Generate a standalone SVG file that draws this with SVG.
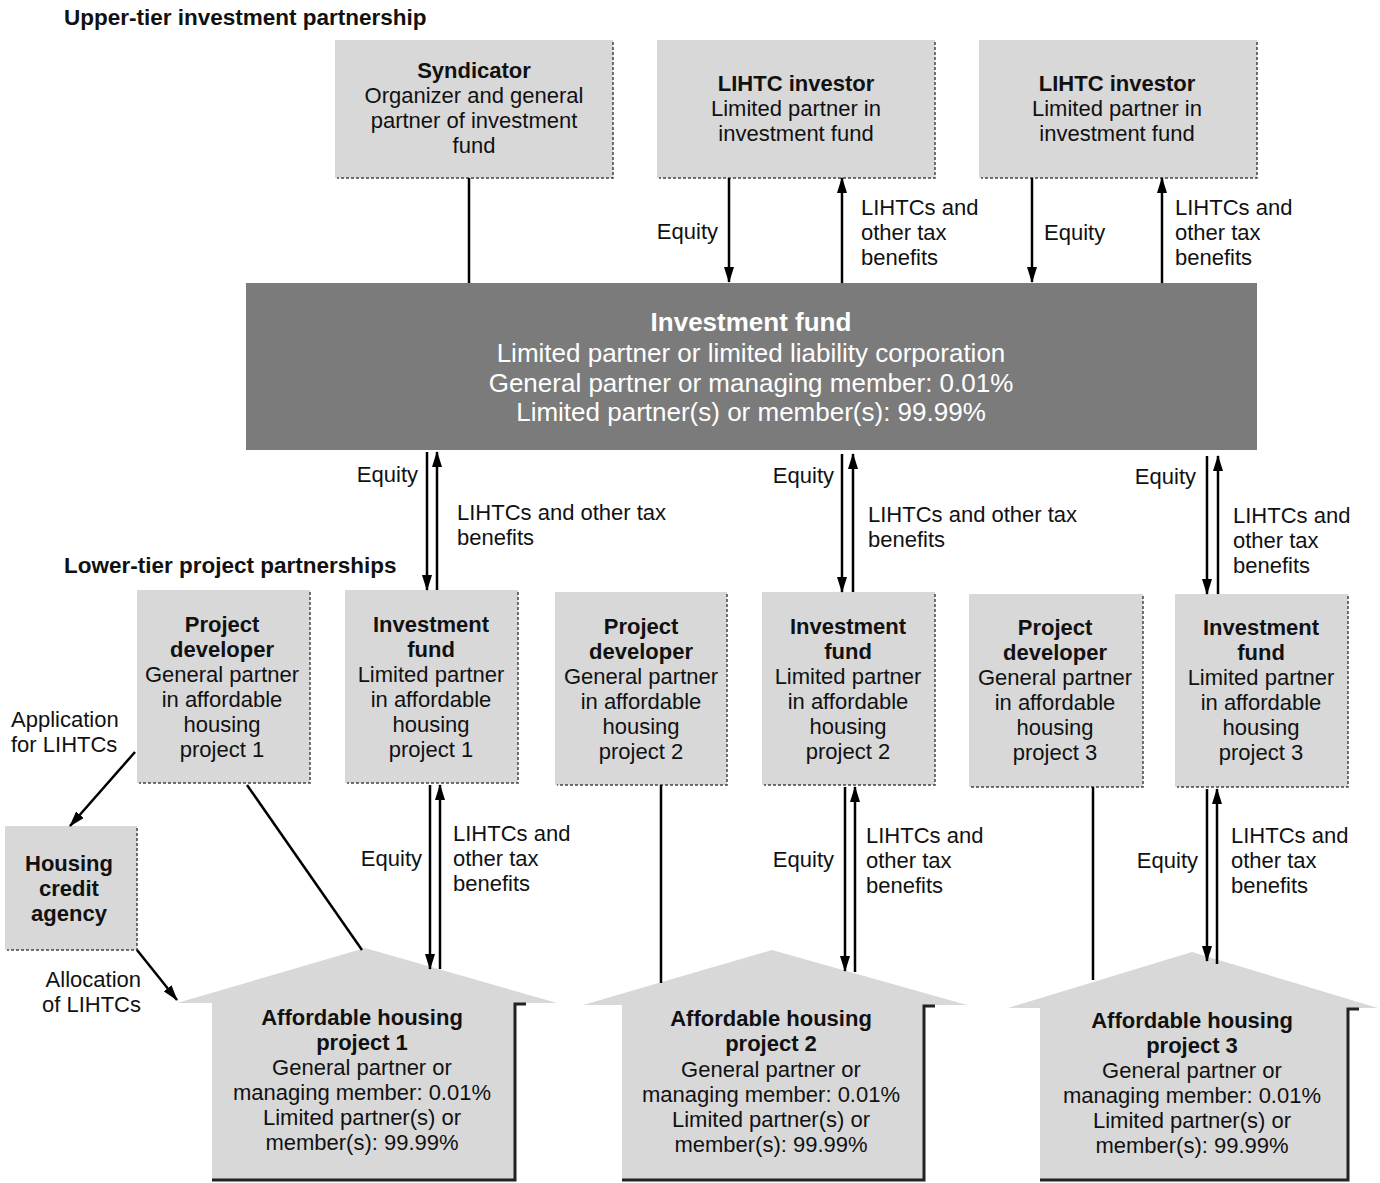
<svg xmlns="http://www.w3.org/2000/svg" width="1380" height="1183" viewBox="0 0 1380 1183">
<style>
text{font-family:"Liberation Sans",Arial,sans-serif;font-size:22px;fill:#111;}
.c{text-anchor:middle;}
.r{text-anchor:end;}
.b{font-weight:bold;}
.h{font-weight:bold;font-size:22.5px;}
.box{fill:#d8d8d8;}
.edge{fill:none;stroke:#444;stroke-width:1.5;stroke-dasharray:3 2;}
.hedge{fill:none;stroke:#222;stroke-width:3;}
.fund{fill:#7b7b7b;}
.ft{fill:#fff;font-size:26px;}
.ln{stroke:#000;stroke-width:2.5;fill:none;}
.ar{stroke:#000;stroke-width:2.5;fill:none;marker-end:url(#ah);}
</style>
<defs>
<marker id="ah" viewBox="0 0 16 10" refX="15" refY="5" markerWidth="16" markerHeight="10" markerUnits="userSpaceOnUse" orient="auto">
<path d="M0,0 L16,5 L0,10 z" fill="#000"/>
</marker>
</defs>
<rect width="1380" height="1183" fill="#fff"/>

<text class="h" x="64" y="25">Upper-tier investment partnership</text>
<text class="h" x="64" y="573">Lower-tier project partnerships</text>

<g id="syndicator">
<rect class="box" x="335" y="40" width="278" height="138"/>
<path class="edge" d="M613,42 V178 H337"/>
<text class="c b" x="474" y="78">Syndicator</text>
<text class="c" x="474" y="103">Organizer and general</text>
<text class="c" x="474" y="128">partner of investment</text>
<text class="c" x="474" y="153">fund</text>
</g>

<g id="investor1">
<rect class="box" x="657" y="40" width="278" height="138"/>
<path class="edge" d="M935,42 V178 H659"/>
<text class="c b" x="796" y="91">LIHTC investor</text>
<text class="c" x="796" y="116">Limited partner in</text>
<text class="c" x="796" y="141">investment fund</text>
</g>

<g id="investor2">
<rect class="box" x="979" y="40" width="278" height="138"/>
<path class="edge" d="M1257,42 V178 H981"/>
<text class="c b" x="1117" y="91">LIHTC investor</text>
<text class="c" x="1117" y="116">Limited partner in</text>
<text class="c" x="1117" y="141">investment fund</text>
</g>

<g id="investment-fund">
<rect class="fund" x="246" y="283" width="1011" height="167"/>
<text class="c b ft" x="751" y="331">Investment fund</text>
<text class="c ft" x="751" y="362">Limited partner or limited liability corporation</text>
<text class="c ft" x="751" y="392">General partner or managing member: 0.01%</text>
<text class="c ft" x="751" y="421">Limited partner(s) or member(s): 99.99%</text>
</g>

<g id="developer1">
<rect class="box" x="137" y="590" width="173" height="193"/>
<path class="edge" d="M310,592 V783 H139"/>
<text class="c b" x="222" y="632">Project</text>
<text class="c b" x="222" y="657">developer</text>
<text class="c" x="222" y="682">General partner</text>
<text class="c" x="222" y="707">in affordable</text>
<text class="c" x="222" y="732">housing</text>
<text class="c" x="222" y="757">project 1</text>
</g>

<g id="fund1">
<rect class="box" x="345" y="590" width="173" height="193"/>
<path class="edge" d="M518,592 V783 H347"/>
<text class="c b" x="431" y="632">Investment</text>
<text class="c b" x="431" y="657">fund</text>
<text class="c" x="431" y="682">Limited partner</text>
<text class="c" x="431" y="707">in affordable</text>
<text class="c" x="431" y="732">housing</text>
<text class="c" x="431" y="757">project 1</text>
</g>

<g id="developer2">
<rect class="box" x="555" y="592" width="172" height="193"/>
<path class="edge" d="M727,594 V785 H557"/>
<text class="c b" x="641" y="634">Project</text>
<text class="c b" x="641" y="659">developer</text>
<text class="c" x="641" y="684">General partner</text>
<text class="c" x="641" y="709">in affordable</text>
<text class="c" x="641" y="734">housing</text>
<text class="c" x="641" y="759">project 2</text>
</g>

<g id="fund2">
<rect class="box" x="762" y="592" width="173" height="193"/>
<path class="edge" d="M935,594 V785 H764"/>
<text class="c b" x="848" y="634">Investment</text>
<text class="c b" x="848" y="659">fund</text>
<text class="c" x="848" y="684">Limited partner</text>
<text class="c" x="848" y="709">in affordable</text>
<text class="c" x="848" y="734">housing</text>
<text class="c" x="848" y="759">project 2</text>
</g>

<g id="developer3">
<rect class="box" x="969" y="594" width="174" height="193"/>
<path class="edge" d="M1143,596 V787 H971"/>
<text class="c b" x="1055" y="635">Project</text>
<text class="c b" x="1055" y="660">developer</text>
<text class="c" x="1055" y="685">General partner</text>
<text class="c" x="1055" y="710">in affordable</text>
<text class="c" x="1055" y="735">housing</text>
<text class="c" x="1055" y="760">project 3</text>
</g>

<g id="fund3">
<rect class="box" x="1175" y="594" width="173" height="193"/>
<path class="edge" d="M1348,596 V787 H1177"/>
<text class="c b" x="1261" y="635">Investment</text>
<text class="c b" x="1261" y="660">fund</text>
<text class="c" x="1261" y="685">Limited partner</text>
<text class="c" x="1261" y="710">in affordable</text>
<text class="c" x="1261" y="735">housing</text>
<text class="c" x="1261" y="760">project 3</text>
</g>

<g id="housing-credit-agency">
<rect class="box" x="5" y="826" width="132" height="124"/>
<path class="edge" d="M137,828 V950 H7"/>
<text class="c b" x="69" y="871">Housing</text>
<text class="c b" x="69" y="896">credit</text>
<text class="c b" x="69" y="921">agency</text>
</g>

<g id="project1">
<polygon class="box" points="177,1003 365,948 557,1003 515,1003 515,1180 212,1180 212,1003"/>
<path class="hedge" d="M526,1004 H515 V1180 H212"/>
<text class="c b" x="362" y="1025">Affordable housing</text>
<text class="c b" x="362" y="1050">project 1</text>
<text class="c" x="362" y="1075">General partner or</text>
<text class="c" x="362" y="1100">managing member: 0.01%</text>
<text class="c" x="362" y="1125">Limited partner(s) or</text>
<text class="c" x="362" y="1150">member(s): 99.99%</text>
</g>

<g id="project2">
<polygon class="box" points="583,1005 772,950 967,1005 924,1005 924,1180 622,1180 622,1005"/>
<path class="hedge" d="M935,1006 H924 V1180 H622"/>
<text class="c b" x="771" y="1026">Affordable housing</text>
<text class="c b" x="771" y="1051">project 2</text>
<text class="c" x="771" y="1077">General partner or</text>
<text class="c" x="771" y="1102">managing member: 0.01%</text>
<text class="c" x="771" y="1127">Limited partner(s) or</text>
<text class="c" x="771" y="1152">member(s): 99.99%</text>
</g>

<g id="project3">
<polygon class="box" points="1008,1008 1192,952 1378,1008 1348,1008 1348,1180 1040,1180 1040,1008"/>
<path class="hedge" d="M1359,1009 H1348 V1180 H1040"/>
<text class="c b" x="1192" y="1028">Affordable housing</text>
<text class="c b" x="1192" y="1053">project 3</text>
<text class="c" x="1192" y="1078">General partner or</text>
<text class="c" x="1192" y="1103">managing member: 0.01%</text>
<text class="c" x="1192" y="1128">Limited partner(s) or</text>
<text class="c" x="1192" y="1153">member(s): 99.99%</text>
</g>

<g id="connectors">
<line class="ln" x1="469" y1="178" x2="469" y2="283"/>
<line class="ar" x1="729" y1="178" x2="729" y2="282"/>
<line class="ar" x1="842" y1="283" x2="842" y2="178"/>
<line class="ar" x1="1032" y1="178" x2="1032" y2="282"/>
<line class="ar" x1="1162" y1="283" x2="1162" y2="178"/>

<line class="ar" x1="427" y1="452" x2="427" y2="590"/>
<line class="ar" x1="437" y1="590" x2="437" y2="452"/>
<line class="ar" x1="842" y1="454" x2="842" y2="592"/>
<line class="ar" x1="853" y1="592" x2="853" y2="454"/>
<line class="ar" x1="1207" y1="456" x2="1207" y2="594"/>
<line class="ar" x1="1218" y1="594" x2="1218" y2="456"/>

<line class="ar" x1="430" y1="785" x2="430" y2="969"/>
<line class="ar" x1="440" y1="969" x2="440" y2="785"/>
<line class="ar" x1="845" y1="787" x2="845" y2="971"/>
<line class="ar" x1="855" y1="972" x2="855" y2="787"/>
<line class="ar" x1="1207" y1="789" x2="1207" y2="961"/>
<line class="ar" x1="1217" y1="964" x2="1217" y2="789"/>

<line class="ln" x1="247" y1="785" x2="362" y2="950"/>
<line class="ln" x1="661" y1="785" x2="661" y2="983"/>
<line class="ln" x1="1093" y1="787" x2="1093" y2="980"/>

<line class="ar" x1="135" y1="752" x2="70" y2="826"/>
<line class="ar" x1="137" y1="950" x2="177" y2="1000"/>

<text class="r" x="718" y="239">Equity</text>
<text x="861" y="215">LIHTCs and</text>
<text x="861" y="240">other tax</text>
<text x="861" y="265">benefits</text>
<text x="1044" y="240">Equity</text>
<text x="1175" y="215">LIHTCs and</text>
<text x="1175" y="240">other tax</text>
<text x="1175" y="265">benefits</text>

<text class="r" x="418" y="482">Equity</text>
<text x="457" y="520">LIHTCs and other tax</text>
<text x="457" y="545">benefits</text>
<text class="r" x="834" y="483">Equity</text>
<text x="868" y="522">LIHTCs and other tax</text>
<text x="868" y="547">benefits</text>
<text class="r" x="1196" y="484">Equity</text>
<text x="1233" y="523">LIHTCs and</text>
<text x="1233" y="548">other tax</text>
<text x="1233" y="573">benefits</text>

<text class="r" x="422" y="866">Equity</text>
<text x="453" y="841">LIHTCs and</text>
<text x="453" y="866">other tax</text>
<text x="453" y="891">benefits</text>
<text class="r" x="834" y="867">Equity</text>
<text x="866" y="843">LIHTCs and</text>
<text x="866" y="868">other tax</text>
<text x="866" y="893">benefits</text>
<text class="r" x="1198" y="868">Equity</text>
<text x="1231" y="843">LIHTCs and</text>
<text x="1231" y="868">other tax</text>
<text x="1231" y="893">benefits</text>

<text x="11" y="727">Application</text>
<text x="11" y="752">for LIHTCs</text>
<text class="r" x="141" y="987">Allocation</text>
<text class="r" x="141" y="1012">of LIHTCs</text>
</g>
</svg>
